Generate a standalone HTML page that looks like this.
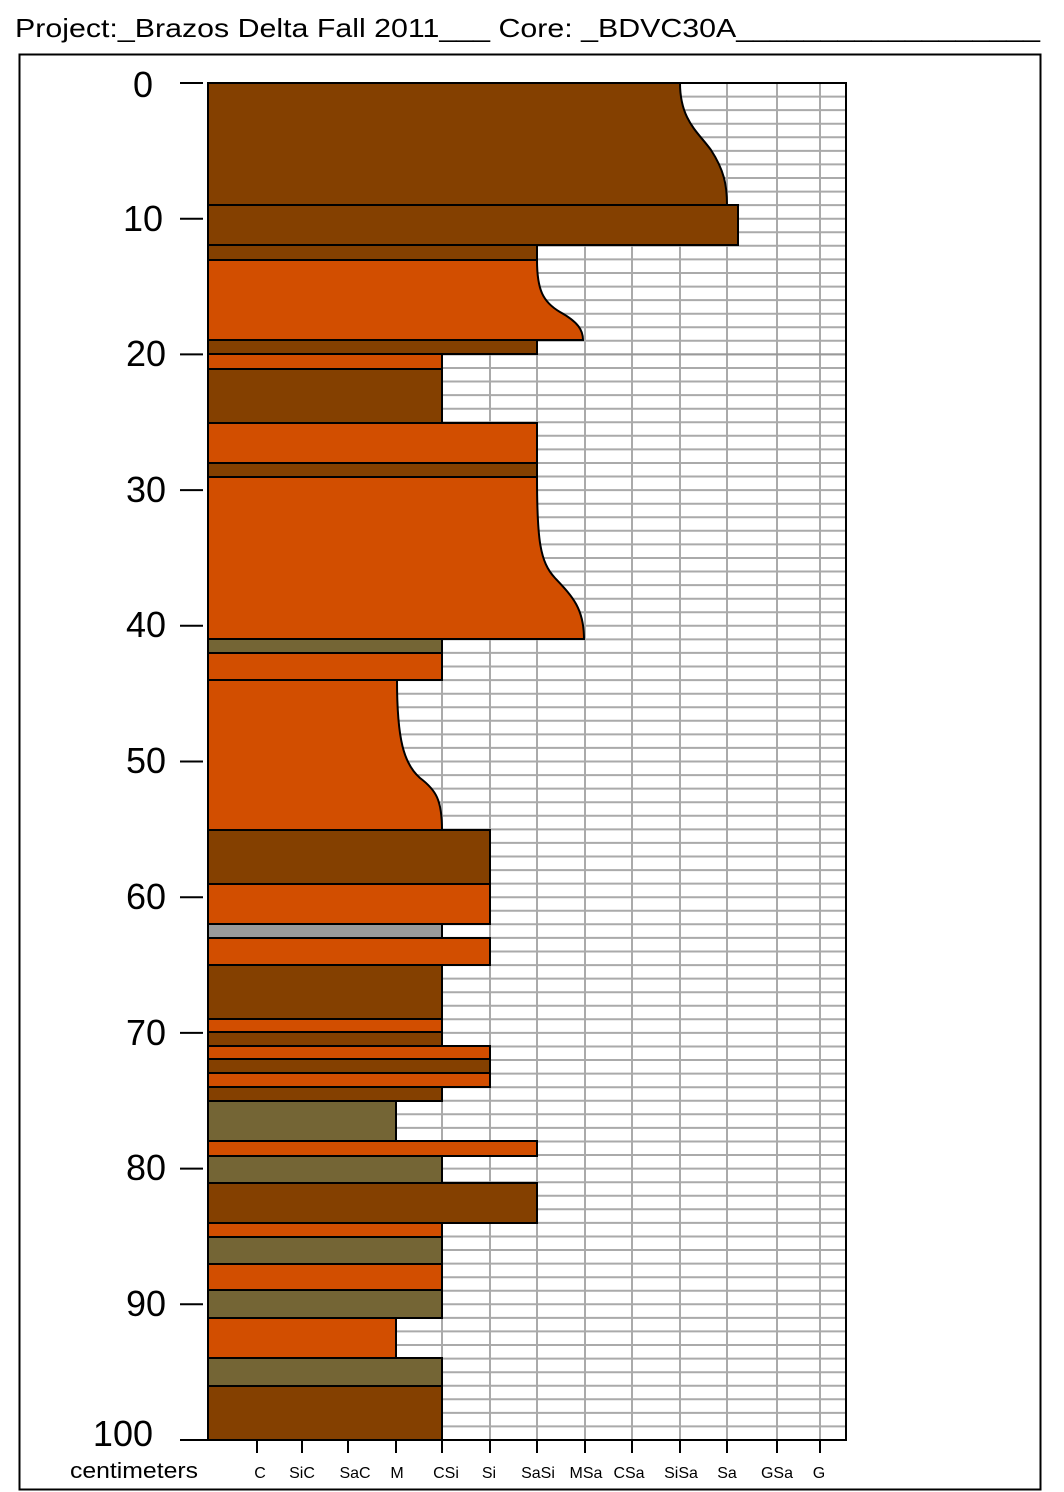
<!DOCTYPE html>
<html><head><meta charset="utf-8"><style>html,body{margin:0;padding:0;background:#fff}svg{display:block}</style></head>
<body>
<svg width="1064" height="1492" viewBox="0 0 1064 1492" xmlns="http://www.w3.org/2000/svg" font-family="Liberation Sans, Arial, sans-serif">
<text x="15" y="37" font-size="26" textLength="1025" lengthAdjust="spacingAndGlyphs">Project:_Brazos Delta Fall 2011___  Core: _BDVC30A__________________</text>
<rect x="19.5" y="54.5" width="1021" height="1435" fill="none" stroke="#000" stroke-width="2"/>
<g stroke="#aaa" stroke-width="2">
<path d="M208 96.6H846M208 110.1H846M208 123.7H846M208 137.3H846M208 150.9H846M208 164.4H846M208 178H846M208 191.6H846M208 205.1H846M208 218.7H846M208 232.3H846M208 245.8H846M208 259.4H846M208 273H846M208 286.6H846M208 300.1H846M208 313.7H846M208 327.3H846M208 340.8H846M208 354.4H846M208 368H846M208 381.5H846M208 395.1H846M208 408.7H846M208 422.3H846M208 435.8H846M208 449.4H846M208 463H846M208 476.5H846M208 490.1H846M208 503.7H846M208 517.2H846M208 530.8H846M208 544.4H846M208 558H846M208 571.5H846M208 585.1H846M208 598.7H846M208 612.2H846M208 625.8H846M208 639.4H846M208 652.9H846M208 666.5H846M208 680.1H846M208 693.7H846M208 707.2H846M208 720.8H846M208 734.4H846M208 747.9H846M208 761.5H846M208 775.1H846M208 788.6H846M208 802.2H846M208 815.8H846M208 829.4H846M208 842.9H846M208 856.5H846M208 870.1H846M208 883.6H846M208 897.2H846M208 910.8H846M208 924.3H846M208 937.9H846M208 951.5H846M208 965.1H846M208 978.6H846M208 992.2H846M208 1005.8H846M208 1019.3H846M208 1032.9H846M208 1046.5H846M208 1060H846M208 1073.6H846M208 1087.2H846M208 1100.8H846M208 1114.3H846M208 1127.9H846M208 1141.5H846M208 1155H846M208 1168.6H846M208 1182.2H846M208 1195.7H846M208 1209.3H846M208 1222.9H846M208 1236.5H846M208 1250H846M208 1263.6H846M208 1277.2H846M208 1290.7H846M208 1304.3H846M208 1317.9H846M208 1331.4H846M208 1345H846M208 1358.6H846M208 1372.2H846M208 1385.7H846M208 1399.3H846M208 1412.9H846M208 1426.4H846"/>
<path d="M257 83V1440M302 83V1440M348 83V1440M396 83V1440M442 83V1440M490 83V1440M537 83V1440M585 83V1440M632 83V1440M680 83V1440M727 83V1440M777 83V1440M820 83V1440"/>
</g>
<path d="M208 354.4H846" stroke="#999" stroke-width="2"/>
<g stroke="#000" stroke-width="2">
<path d="M208 83H680C680 120 698 132 711 150C724 170 727 185 727 205H208Z" fill="#844000"/>
<rect x="208" y="205" width="530" height="40" fill="#844000"/>
<rect x="208" y="245" width="329" height="15" fill="#844000"/>
<path d="M208 260H537C537 290 543 302 560 312C578 322 583 330 583 340H208Z" fill="#d24e00"/>
<rect x="208" y="340" width="329" height="14" fill="#844000"/>
<rect x="208" y="354" width="234" height="15" fill="#d24e00"/>
<rect x="208" y="369" width="234" height="54" fill="#844000"/>
<rect x="208" y="423" width="329" height="40" fill="#d24e00"/>
<rect x="208" y="463" width="329" height="14" fill="#844000"/>
<path d="M208 477H537C537 540 540 562 555 578C572 596 584 608 584 639H208Z" fill="#d24e00"/>
<rect x="208" y="639" width="234" height="14" fill="#746535"/>
<rect x="208" y="653" width="234" height="27" fill="#d24e00"/>
<path d="M208 680H397C397 740 404 764 420 778C436 790 442 800 442 830H208Z" fill="#d24e00"/>
<rect x="208" y="830" width="282" height="54" fill="#844000"/>
<rect x="208" y="884" width="282" height="40" fill="#d24e00"/>
<rect x="208" y="924" width="234" height="14" fill="#9a9a9a"/>
<rect x="208" y="938" width="282" height="27" fill="#d24e00"/>
<rect x="208" y="965" width="234" height="54" fill="#844000"/>
<rect x="208" y="1019" width="234" height="13" fill="#d24e00"/>
<rect x="208" y="1032" width="234" height="14" fill="#844000"/>
<rect x="208" y="1046" width="282" height="13" fill="#d24e00"/>
<rect x="208" y="1059" width="282" height="14" fill="#844000"/>
<rect x="208" y="1073" width="282" height="14" fill="#d24e00"/>
<rect x="208" y="1087" width="234" height="14" fill="#844000"/>
<rect x="208" y="1101" width="188" height="40" fill="#746535"/>
<rect x="208" y="1141" width="329" height="15" fill="#d24e00"/>
<rect x="208" y="1156" width="234" height="27" fill="#746535"/>
<rect x="208" y="1183" width="329" height="40" fill="#844000"/>
<rect x="208" y="1223" width="234" height="14" fill="#d24e00"/>
<rect x="208" y="1237" width="234" height="27" fill="#746535"/>
<rect x="208" y="1264" width="234" height="26" fill="#d24e00"/>
<rect x="208" y="1290" width="234" height="28" fill="#746535"/>
<rect x="208" y="1318" width="188" height="40" fill="#d24e00"/>
<rect x="208" y="1358" width="234" height="28" fill="#746535"/>
<rect x="208" y="1386" width="234" height="54" fill="#844000"/>
</g>
<g stroke="#000" stroke-width="2" fill="none">
<path d="M680 83H846V1440H180"/>
<path d="M180 83H203M180 218.7H203M180 354.4H203M180 490.1H203M180 625.8H203M180 761.5H203M180 897.2H203M180 1032.9H203M180 1168.6H203M180 1304.3H203"/>
<path d="M257 1440V1453M302 1440V1453M348 1440V1453M396 1440V1453M442 1440V1453M490 1440V1453M537 1440V1453M585 1440V1453M632 1440V1453M680 1440V1453M727 1440V1453M777 1440V1453M820 1440V1453"/>
</g>
<g font-size="36" text-anchor="end">
<text x="153" y="97">0</text><text x="163" y="231">10</text><text x="166" y="366">20</text><text x="166" y="502">30</text><text x="166" y="637">40</text><text x="166" y="773">50</text><text x="166" y="909">60</text><text x="166" y="1045">70</text><text x="166" y="1180">80</text><text x="166" y="1316">90</text><text x="153" y="1446">100</text>
</g>
<text x="70" y="1478" font-size="22" textLength="128" lengthAdjust="spacingAndGlyphs">centimeters</text>
<g font-size="16" text-anchor="middle">
<text x="260" y="1478">C</text><text x="302" y="1478">SiC</text><text x="355" y="1478">SaC</text><text x="397" y="1478">M</text><text x="446" y="1478">CSi</text><text x="489" y="1478">Si</text><text x="538" y="1478">SaSi</text><text x="586" y="1478">MSa</text><text x="629" y="1478">CSa</text><text x="681" y="1478">SiSa</text><text x="727" y="1478">Sa</text><text x="777" y="1478">GSa</text><text x="819" y="1478">G</text>
</g>
</svg>
</body></html>
